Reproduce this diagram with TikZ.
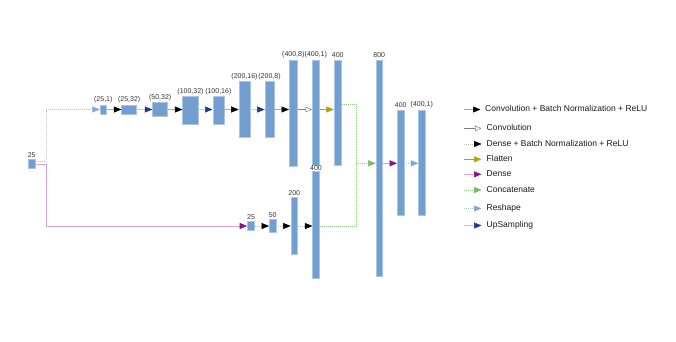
\documentclass[tikz,border=0pt]{standalone}
\usepackage{fontspec}
\setmainfont{Liberation Sans}
\usetikzlibrary{positioning,arrows.meta}
\definecolor{barfill}{HTML}{729FCF}
\definecolor{barline}{HTML}{A9C5E8}
\definecolor{linegray}{HTML}{A8A8A8}
\definecolor{olive}{HTML}{B3A300}
\definecolor{plum}{HTML}{8A1283}
\definecolor{pinkline}{HTML}{DDA3D8}
\definecolor{leaf}{HTML}{77BC65}
\definecolor{sky}{HTML}{7FA7DD}
\definecolor{skyline}{HTML}{A9C5EC}
\definecolor{navy}{HTML}{1F3A8C}
\definecolor{navyline}{HTML}{C3CBE3}
\definecolor{labeltext}{HTML}{333333}

\begin{document}
\begin{tikzpicture}[x=1pt,y=-1pt,font=\fontsize{7}{8}\selectfont,
  bar/.style={draw=barline,line width=0.6pt,fill=barfill,inner sep=0pt},
  lbl/.style={text=labeltext,inner sep=1.5pt},
  lab/.style={label={[lbl]above:{#1}}},
  tip/.style={-{Triangle[length=7.5pt,width=6pt,#1]}},
  convrelu/.style={tip={color=black},draw=linegray,line width=0.5pt},
  convplain/.style={-{Triangle[open,length=6.5pt,width=5.5pt]},draw=gray,line width=0.5pt},
  denserelu/.style={tip={color=black},draw=linegray!70,line width=0.5pt,dash pattern=on 1pt off 1pt},
  flatarr/.style={tip={color=olive},draw=olive,line width=0.6pt},
  densearr/.style={tip={color=plum},draw=pinkline,line width=0.7pt},
  catline/.style={draw=leaf!80,line width=0.5pt,dash pattern=on 1pt off 1pt},
  catarr/.style={catline,tip={color=leaf}},
  reshapearr/.style={tip={color=sky},draw=skyline,line width=0.6pt,dash pattern=on 1pt off 1pt},
  uparr/.style={tip={color=navy},draw=navyline,line width=0.5pt},
  legtxt/.style={anchor=west,inner sep=2pt,text height=6.2pt,text depth=1.8pt,
    font=\fontsize{8.5}{10}\selectfont,text=black!90}]
\useasboundingbox (0,0) rectangle (676,341);

% input
\node[bar,minimum width=7pt,minimum height=9pt,lab=25] (in) at (31.7,163.8) {};

% upper branch
\node[bar,minimum width=6.5pt,minimum height=9pt,lab={(25,1)}] (r1) at (103.3,109.5) {};
\node[bar,minimum width=15pt,minimum height=9pt,lab={(25,32)}] (c1) at (129.2,109.5) {};
\node[bar,minimum width=15pt,minimum height=13.5pt,lab={(50,32)}] (u1) at (160.2,109.5) {};
\node[bar,minimum width=15.5pt,minimum height=28pt,lab={(100,32)}] (c2) at (190.5,110.5) {};
\node[bar,minimum width=11pt,minimum height=28pt,lab={(100,16)}] (u2) at (218.3,110.5) {};
\node[bar,minimum width=11pt,minimum height=56pt,lab={(200,16)}] (c3) at (244.5,109.7) {};
\node[bar,minimum width=9pt,minimum height=56pt,lab={(200,8)}] (u3) at (269.5,109.7) {};
\node[bar,minimum width=8pt,minimum height=106pt,lab={(400,8)}] (c4) at (293.3,113) {};
\node[bar,minimum width=7pt,minimum height=105pt,lab={(400,1)}] (c5) at (315.8,112.5) {};
\node[bar,minimum width=7pt,minimum height=105pt,lab=400] (fl) at (337.7,112.5) {};

% lower branch
\node[bar,minimum width=7pt,minimum height=9pt,lab=25] (d1) at (251,226.2) {};
\node[bar,minimum width=6.7pt,minimum height=13.4pt,lab=50] (d2) at (272.7,226) {};
\node[bar,minimum width=6.7pt,minimum height=56.6pt,lab=200] (d3) at (294.3,226) {};
\node[bar,minimum width=6.7pt,minimum height=107pt,label={[lbl,label distance=-2pt]above:400}] (d4) at (316,224.5) {};

% merged part
\node[bar,minimum width=6.5pt,minimum height=216pt,lab=800] (mg) at (379.2,168) {};
\node[bar,minimum width=6.7pt,minimum height=105pt,lab=400] (e1) at (400.7,162.5) {};
\node[bar,minimum width=6.3pt,minimum height=105pt,lab={(400,1)}] (out) at (421.8,162.5) {};

\coordinate (top) at (0,109.5);
\coordinate (bot) at (0,226);
\coordinate (flo) at (0,104.3);
\coordinate (sp) at (46,0);
\coordinate (jn) at (356.3,163.3);

\draw[reshapearr] ([yshift=2.5pt]in.east) -| (sp |- top) -- (r1.west |- top);
\draw[densearr] ([yshift=-1pt]in.east) -| (sp |- bot) -- (d1.west |- bot);

\draw[convrelu] (r1.east |- top) -- (c1.west |- top);
\draw[uparr] (c1.east |- top) -- (u1.west |- top);
\draw[convrelu] (u1.east |- top) -- (c2.west |- top);
\draw[uparr] (c2.east |- top) -- (u2.west |- top);
\draw[convrelu] (u2.east |- top) -- (c3.west |- top);
\draw[uparr] (c3.east |- top) -- (u3.west |- top);
\draw[convrelu] (u3.east |- top) -- (c4.west |- top);
\draw[convplain] (c4.east |- top) -- (c5.west |- top);
\draw[flatarr] (c5.east |- top) -- (fl.west |- top);

\draw[denserelu] (d1.east |- bot) -- (d2.west |- bot);
\draw[denserelu] (d2.east |- bot) -- (d3.west |- bot);
\draw[denserelu] (d3.east |- bot) -- (d4.west |- bot);

\draw[catline] (fl.east |- flo) -| (jn);
\draw[catline] (d4.east |- bot) -| (jn);
\draw[catarr] (jn) -- (mg.west |- jn);
\draw[densearr] (mg.east |- jn) -- (e1.west |- jn);
\draw[reshapearr] (e1.east |- jn) -- (out.west |- jn);

% legend
\node[legtxt] (t1) at (483,109.5) {Convolution + Batch Normalization + ReLU};
\node[legtxt] (t2) at (484.5,128.3) {Convolution};
\node[legtxt] (t3) at (484.5,144) {Dense + Batch Normalization + ReLU};
\node[legtxt] (t4) at (484.5,159.3) {Flatten};
\node[legtxt] (t5) at (484.5,174.3) {Dense};
\node[legtxt] (t6) at (484.5,190) {Concatenate};
\node[legtxt] (t7) at (484.5,208.5) {Reshape};
\node[legtxt] (t8) at (484.5,225.5) {UpSampling};
\coordinate (l1) at (464,0);
\draw[convrelu,shorten >=2.5pt] (l1 |- t1) -- (t1.west);
\draw[convplain,shorten >=3pt] (l1 |- t2) -- (t2.west);
\draw[denserelu,shorten >=3pt] (l1 |- t3) -- (t3.west);
\draw[flatarr,shorten >=3pt] (l1 |- t4) -- (t4.west);
\draw[densearr,shorten >=3pt] (l1 |- t5) -- (t5.west);
\draw[catarr,shorten >=3pt] (l1 |- t6) -- (t6.west);
\draw[reshapearr,shorten >=3pt] (l1 |- t7) -- (t7.west);
\draw[uparr,shorten >=3pt] (l1 |- t8) -- (t8.west);
\end{tikzpicture}
\end{document}
